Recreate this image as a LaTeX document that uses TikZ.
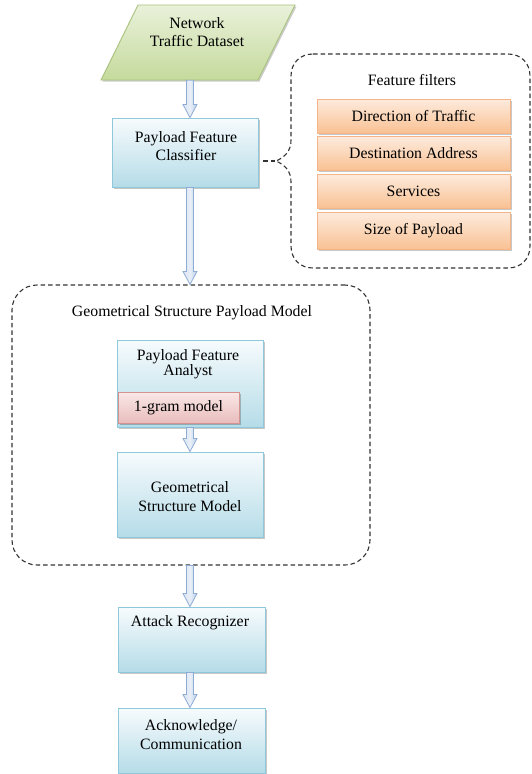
\documentclass[tikz,border=0pt]{standalone}
\usepackage{fontspec}
\setmainfont{Liberation Serif}
\usetikzlibrary{shadows,calc}
\definecolor{greentop}{HTML}{E9F1DA}
\definecolor{greenbot}{HTML}{C5DA9C}
\definecolor{greenborder}{HTML}{A8C27E}
\definecolor{bluetop}{HTML}{F7FBFD}
\definecolor{bluebot}{HTML}{B5DCE8}
\definecolor{blueborder}{HTML}{8FC8DA}
\definecolor{orangetop}{HTML}{FDEBDD}
\definecolor{orangebot}{HTML}{F9C193}
\definecolor{orangeborder}{HTML}{F6B489}
\definecolor{redtop}{HTML}{FAE8E7}
\definecolor{redbot}{HTML}{E8BDBC}
\definecolor{redborder}{HTML}{D49391}
\definecolor{arrowfill}{HTML}{BCD0E9}
\definecolor{arrowborder}{HTML}{8FADD4}
\definecolor{dashcol}{HTML}{333333}
\newcommand{\blockarrow}[2]{%
  \path[arrowstyle] let \p1=(#1 -| axis), \p2=(#2 -| axis) in
    (\x1-3.5pt,\y1) -- (\x1-3.5pt,\y2+13pt) -- (\x1-7pt,\y2+13pt) -- (\x1,\y2)
    -- (\x1+7pt,\y2+13pt) -- (\x1+3.5pt,\y2+13pt) -- (\x1+3.5pt,\y1) -- cycle;}
\begin{document}
\begin{tikzpicture}[x=1pt,y=-1pt,
  font=\fontsize{15.8}{18.5}\selectfont,
  shad/.style={drop shadow={shadow xshift=1.5pt, shadow yshift=-1.5pt, fill=black, opacity=0.22}},
  bluebox/.style={draw=blueborder, line width=0.9pt, top color=bluetop, bottom color=bluebot, shad, inner sep=0pt},
  orangebox/.style={draw=orangeborder, line width=0.9pt, top color=orangetop, bottom color=orangebot, shad, inner sep=0pt, minimum width=193pt},
  redbox/.style={draw=redborder, line width=0.9pt, top color=redtop, bottom color=redbot, shad, inner sep=0pt},
  txt/.style={align=center, inner sep=0pt},
  dashbox/.style={draw=dashcol, line width=1.1pt, dash pattern=on 4.5pt off 3pt},
  arrowstyle/.style={draw=arrowborder, line width=0.8pt, left color=arrowfill!55, right color=arrowfill, middle color=arrowfill!35}
]
\useasboundingbox (0,0) rectangle (532,774);
\coordinate (axis) at (190,0);

% dataset parallelogram
\fill[black, opacity=0.2] (139.5,6.5) -- (296.5,6.5) -- (259.5,81.5) -- (102.5,81.5) -- cycle;
\path[draw=greenborder, line width=0.9pt, top color=greentop, bottom color=greenbot]
  (138,5) -- (295,5) -- (258,80) -- (101,80) -- cycle;
\node[minimum width=194pt, minimum height=75pt, inner sep=0pt] (ds) at (198,42.5) {};
\node[txt] (dst) at (197,32) {Network\\Traffic Dataset};

% classifier
\node[bluebox, minimum width=146pt, minimum height=69pt] (pfc) at (185,152.5) {};
\node[txt] (pfct) at (186,146) {Payload Feature\\Classifier};

% feature filters group
\draw[dashbox] (313,54) -- (508,54) .. controls (521,54) and (530,63) .. (530,76)
  -- (530,246) .. controls (530,259) and (521,268) .. (508,268)
  -- (313,268) .. controls (300,268) and (291,259) .. (291,246)
  -- (291,182) .. controls (291,171) and (285,165) .. (276,161)
  .. controls (285,157) and (291,151) .. (291,140)
  -- (291,76) .. controls (291,63) and (300,54) .. (313,54) -- cycle;
\coordinate (tip) at (276,161);
\draw[dashbox] (pfc.east |- tip) ++(5,0) -- (tip);
\node[txt] (fft) at (412,80) {Feature filters};
\node[orangebox, minimum height=34pt] (f1) at (413.5,116) {Direction of Traffic};
\node[orangebox, minimum height=34pt] (f2) at (413.5,153.5) {Destination Address};
\node[orangebox, minimum height=34pt] (f3) at (413.5,191) {Services};
\node[orangebox, minimum height=37pt] (f4) at (413.5,231) {Size of Payload};

% geometrical structure payload model group
\node[dashbox, rounded corners=25pt, minimum width=358pt, minimum height=280pt] (gsp) at (191,425) {};
\node[txt] (gspt) at (192,313) {Geometrical Structure Payload Model};

\node[bluebox, minimum width=146pt, minimum height=87pt] (pfa) at (190,383.5) {};
\node[txt, font=\fontsize{15.8}{12.5}\selectfont] (pfat) at (188,364) {Payload Feature\\Analyst};
\node[redbox, minimum width=121pt, minimum height=31pt] (ngram) at (178.5,407.5) {1-gram model};

\node[bluebox, minimum width=146pt, minimum height=85pt] (gsm) at (190,494.5) {};
\node[txt] (gsmt) at (190,496.5) {Geometrical\\Structure Model};

\node[bluebox, minimum width=147pt, minimum height=65pt] (ar) at (191.5,639.5) {};
\node[txt] (art) at (190,623) {Attack Recognizer};

\node[bluebox, minimum width=147pt, minimum height=65pt] (ack) at (191.5,740.5) {};
\node[txt] (ackt) at (191,734.5) {Acknowledge/\\Communication};

% arrows
\blockarrow{ds.south}{pfc.north}
\blockarrow{pfc.south}{gsp.north}
\blockarrow{pfa.south}{gsm.north}
\blockarrow{gsp.south}{ar.north}
\blockarrow{ar.south}{ack.north}
\end{tikzpicture}
\end{document}
